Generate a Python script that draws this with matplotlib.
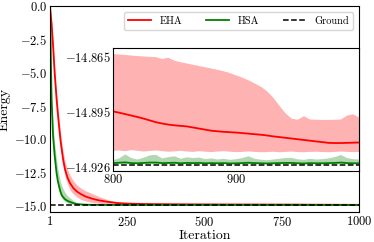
import numpy as np
import matplotlib
matplotlib.use("Agg")
import matplotlib.pyplot as plt

plt.rcParams['font.family'] = 'serif'
plt.rcParams['font.serif'] = ['cmr10']
plt.rcParams['mathtext.fontset'] = 'cm'
plt.rcParams['axes.formatter.use_mathtext'] = True
plt.rcParams['axes.unicode_minus'] = True

# ground state energy
ground = -14.9247

# early part of the run
iters_early = [1, 6, 11, 16, 22, 26, 31, 35, 39, 44, 50, 58, 66, 76, 87, 100, 115, 130,
               145, 160, 175, 185, 200, 220, 250, 300, 400, 500, 600, 700, 750, 795]
eha_early = [0.0, -1.3, -3.0, -5.0, -6.9, -8.0, -9.2, -10.1, -10.8, -11.6, -12.3, -12.9,
             -13.3, -13.65, -13.9, -14.1, -14.28, -14.4, -14.5, -14.58, -14.64, -14.68,
             -14.72, -14.78, -14.82, -14.85, -14.87, -14.88, -14.886, -14.891, -14.893, -14.895]
eha_hi_early = [0.0, -1.1, -2.7, -4.6, -6.5, -7.5, -8.6, -9.5, -10.2, -11.0, -11.7, -12.3,
                -12.7, -13.1, -13.4, -13.65, -13.85, -14.0, -14.15, -14.3, -14.42, -14.52,
                -14.62, -14.74, -14.8, -14.83, -14.85, -14.858, -14.86, -14.862, -14.863, -14.863]
eha_lo_early = [0.0, -1.5, -3.3, -5.4, -7.3, -8.5, -9.7, -10.6, -11.3, -12.1, -12.8, -13.4,
                -13.8, -14.1, -14.3, -14.5, -14.62, -14.7, -14.76, -14.8, -14.84, -14.86,
                -14.88, -14.9, -14.91, -14.913, -14.915, -14.916, -14.917, -14.917, -14.917, -14.917]
hsa_early = [0.0, -7.0, -9.8, -11.2, -12.5, -13.1, -13.6, -13.95, -14.2, -14.35, -14.5, -14.62,
             -14.7, -14.78, -14.85, -14.88, -14.9, -14.91, -14.915, -14.918, -14.92, -14.921,
             -14.922, -14.922, -14.923, -14.9235, -14.9237, -14.9238, -14.9238, -14.9238, -14.9238, -14.9238]
hsa_hi_early = [0.0, -6.5, -9.0, -10.3, -11.5, -12.2, -12.8, -13.2, -13.5, -13.75, -14.0, -14.25,
                -14.4, -14.6, -14.75, -14.84, -14.88, -14.9, -14.91, -14.915, -14.918, -14.919,
                -14.92, -14.92, -14.921, -14.921, -14.921, -14.921, -14.921, -14.921, -14.921, -14.921]
hsa_lo_early = [0.0, -7.3, -10.2, -11.6, -12.9, -13.5, -13.9, -14.2, -14.4, -14.55, -14.68, -14.78,
                -14.83, -14.87, -14.9, -14.91, -14.918, -14.92, -14.922, -14.923, -14.923, -14.924,
                -14.924, -14.924, -14.9242, -14.9242, -14.9242, -14.9242, -14.9242, -14.9242, -14.9242, -14.9242]

# late part of the run, every 5 iterations
iters_late = list(range(800, 1001, 5))
eha_late = [-14.8952, -14.8959, -14.8967, -14.8975, -14.8983, -14.8992, -14.9002, -14.9012,
            -14.9019, -14.9025, -14.9029, -14.9032, -14.9035, -14.9041, -14.9047, -14.9053,
            -14.9059, -14.9062, -14.9065, -14.9067, -14.9069, -14.9072, -14.9075, -14.9078,
            -14.9081, -14.9085, -14.9090, -14.9094, -14.9098, -14.9102, -14.9106, -14.9110,
            -14.9114, -14.9118, -14.9122, -14.9126, -14.9127, -14.9127, -14.9126, -14.9125, -14.9124]
eha_hi_late = [-14.8635, -14.8637, -14.8640, -14.8643, -14.8646, -14.8648, -14.8650, -14.8652,
               -14.8662, -14.8655, -14.8672, -14.8680, -14.8687, -14.8694, -14.8701, -14.8708,
               -14.8715, -14.8722, -14.8730, -14.8740, -14.8753, -14.8765, -14.8780, -14.8797,
               -14.8815, -14.8840, -14.8875, -14.8920, -14.8962, -14.8992, -14.8998, -14.8978,
               -14.8997, -14.8998, -14.8999, -14.8999, -14.8998, -14.8997, -14.8975, -14.8968, -14.8987]
eha_lo_late = [-14.9170, -14.9168, -14.9172, -14.9166, -14.9170, -14.9174, -14.9171, -14.9168,
               -14.9172, -14.9175, -14.9173, -14.9170, -14.9174, -14.9176, -14.9172, -14.9175,
               -14.9177, -14.9174, -14.9172, -14.9175, -14.9177, -14.9176, -14.9173, -14.9176,
               -14.9178, -14.9177, -14.9175, -14.9178, -14.9176, -14.9174, -14.9177, -14.9178,
               -14.9176, -14.9175, -14.9177, -14.9178, -14.9176, -14.9174, -14.9176, -14.9177, -14.9176]
hsa_late = [-14.9238, -14.9236, -14.9234, -14.9238, -14.9239, -14.9237, -14.9235, -14.9235,
            -14.9238, -14.9237, -14.9236, -14.9239, -14.9237, -14.9238, -14.9237, -14.9239,
            -14.9238, -14.9239, -14.9238, -14.9240, -14.9239, -14.9238, -14.9236, -14.9238,
            -14.9239, -14.9240, -14.9239, -14.9238, -14.9237, -14.9237, -14.9239, -14.9240,
            -14.9238, -14.9239, -14.9239, -14.9238, -14.9237, -14.9235, -14.9238, -14.9239, -14.9239]
hsa_hi_late = [-14.9222, -14.9212, -14.9190, -14.9210, -14.9218, -14.9208, -14.9195, -14.9192,
               -14.9212, -14.9205, -14.9200, -14.9214, -14.9206, -14.9210, -14.9207, -14.9216,
               -14.9212, -14.9218, -14.9214, -14.9220, -14.9216, -14.9210, -14.9200, -14.9214,
               -14.9219, -14.9222, -14.9218, -14.9214, -14.9210, -14.9209, -14.9217, -14.9220,
               -14.9214, -14.9218, -14.9216, -14.9212, -14.9205, -14.9193, -14.9210, -14.9216, -14.9218]
hsa_lo_late = [-14.9242] * len(iters_late)

iters = np.array(iters_early + iters_late)
eha = np.array(eha_early + eha_late)
eha_hi = np.array(eha_hi_early + eha_hi_late)
eha_lo = np.array(eha_lo_early + eha_lo_late)
hsa = np.array(hsa_early + hsa_late)
hsa_hi = np.array(hsa_hi_early + hsa_hi_late)
hsa_lo = np.array(hsa_lo_early + hsa_lo_late)

fig = plt.figure(figsize=(3.74, 2.42), dpi=100)
ax = fig.add_axes([0.1337, 0.124, 0.8275, 0.851])


def draw(a):
    a.fill_between(iters, eha_lo, eha_hi, color='red', alpha=0.3, linewidth=0)
    a.fill_between(iters, hsa_lo, hsa_hi, color='green', alpha=0.3, linewidth=0)
    a.plot(iters, eha, color='red', lw=1.3, label='EHA')
    a.plot(iters, hsa, color='green', lw=1.3, label='HSA')
    a.axhline(ground, color='black', ls='--', lw=1.1, label='Ground')


draw(ax)
ax.set_xlim(1, 1000)
ax.set_ylim(-15.45, 0)
ax.set_xticks([1, 250, 500, 750, 1000])
ax.set_yticks([0, -2.5, -5, -7.5, -10, -12.5, -15])
ax.tick_params(length=0, pad=2, labelsize=9)
ax.set_xlabel('Iteration', fontsize=10, labelpad=1)
ax.set_ylabel('Energy', fontsize=10, labelpad=2)
ax.legend(loc='upper right', ncol=3, fontsize=7.5, columnspacing=2.3, handlelength=2.2,
          borderaxespad=0.6)

# zoomed inset
ins = fig.add_axes([0.302, 0.2946, 0.659, 0.508])
draw(ins)
ins.set_xlim(800, 1000)
ins.set_ylim(-14.928, -14.860)
ins.set_xticks([800, 900])
ins.set_yticks([-14.865, -14.895, -14.926])
ins.set_yticklabels(['$-14.865$', '$-14.895$', '$-14.926$'])
ins.tick_params(length=0, pad=1.5, labelsize=9)

fig.savefig('out.png', dpi=100)
